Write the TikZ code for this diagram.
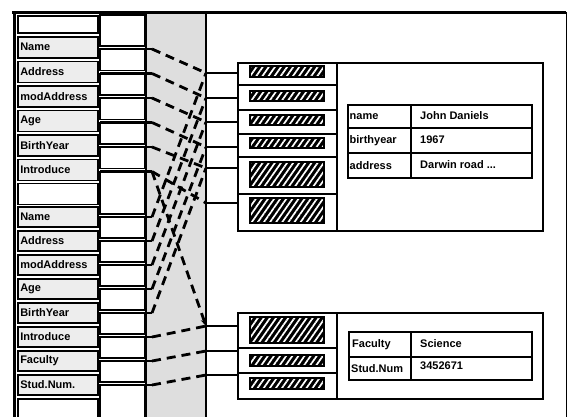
\documentclass[tikz,border=0pt]{standalone}
\usepackage{fontspec}
\setmainfont{Liberation Sans}
\usetikzlibrary{patterns.meta,arrows.meta}
\begin{document}
\begin{tikzpicture}[x=1pt,y=-1pt,
  txt/.style={font=\bfseries\fontsize{11}{12}\selectfont},
  slotbox/.style={draw=black,line width=1.5pt,fill=black!7,anchor=north west,minimum width=80pt,text width=75pt,align=left,inner xsep=2.5pt,inner ysep=0pt,txt},
  ptrbox/.style={draw=black,line width=1.5pt,fill=white},
  wire/.style={line width=2.2pt},
  dashwire/.style={line width=2.8pt,dash pattern=on 9pt off 6pt},
  hatch/.style={draw=black,line width=1.4pt,preaction={fill=black},pattern={Lines[angle=55,distance=5pt,line width=1.7pt]},pattern color=white},
  objbox/.style={draw=black,line width=2.2pt,anchor=north west,inner sep=0pt},
  cell/.style={txt,anchor=west,inner sep=0pt}
]
\useasboundingbox (0,0) rectangle (571,416);
\begin{scope}
\clip (0,0) rectangle (571,416);
% shaded column
\fill[black!13] (146,12) rectangle (206,420);
\draw[line width=2.2pt] (146,12) -- (146,420);
\draw[line width=2.2pt] (206,12) -- (206,420);
% frame
\draw[line width=3pt] (12,12) -- (566,12);
\draw[line width=3pt] (14,12) -- (14,420);
\draw[line width=1pt] (566,12) -- (566,420);

% column 1: selector slots
\node[slotbox,fill=white,minimum height=17pt] (L0) at (17,15) {};
\node[slotbox,minimum height=21pt] (L1) at (17,36) {Name};
\node[slotbox,minimum height=21pt] (L2) at (17,60.5) {Address};
\node[slotbox,minimum height=21pt] (L3) at (17,85) {modAddress};
\node[slotbox,minimum height=21pt] (L4) at (17,109.5) {Age};
\node[slotbox,minimum height=21pt] (L5) at (17,134) {BirthYear};
\node[slotbox,minimum height=21pt] (L6) at (17,158.5) {Introduce};
\node[slotbox,fill=white,minimum height=21pt] (L7) at (17,182.5) {};
\node[slotbox,minimum height=20pt] (L8) at (17,206) {Name};
\node[slotbox,minimum height=20pt] (L9) at (17,230) {Address};
\node[slotbox,minimum height=20pt] (L10) at (17,254) {modAddress};
\node[slotbox,minimum height=20pt] (L11) at (17,278) {Age};
\node[slotbox,minimum height=20pt] (L12) at (17,302) {BirthYear};
\node[slotbox,minimum height=20pt] (L13) at (17,326) {Introduce};
\node[slotbox,minimum height=20pt] (L14) at (17,350) {Faculty};
\node[slotbox,minimum height=20pt] (L15) at (17,374) {Stud.Num.};
\node[slotbox,fill=white,minimum height=24pt] (L16) at (17,398) {};

% column 2: pointer cells
\foreach \a/\b in {15/46, 49/70.5, 73.5/95, 98/119.5, 122.5/144, 147/168.5, 171.5/214,
  217/238, 241/262, 265/286, 289/310, 313/334, 337/358, 361/382, 385/420}
  \draw[ptrbox] (100,\a) rectangle (145,\b);

% object 1
\node[objbox,minimum width=305pt,minimum height=168pt] (obj1) at (237,62) {};
\draw[line width=2pt] (337,62) -- (337,230);
\foreach \y in {85,110,134,157,194} \draw[line width=1.5pt] (237,\y) -- (337,\y);
\foreach \a/\b in {66/77, 91/101, 115/125, 138/148, 162/187, 198/223}
  \draw[hatch] (250,\a) rectangle (324,\b);
% table 1
\draw[line width=2pt] (348,105) rectangle (532,178);
\draw[line width=1.5pt] (348,128) -- (532,128);
\draw[line width=1.5pt] (348,153) -- (532,153);
\draw[line width=2pt] (411,105) -- (411,178);
\node[cell] (c1) at (349.5,116.5) {name};
\node[cell] (c2) at (420,116) {John Daniels};
\node[cell] (c3) at (349.5,140.5) {birthyear};
\node[cell] (c4) at (420,140) {1967};
\node[cell] (c5) at (349.5,165.5) {address};
\node[cell] (c6) at (420,165) {Darwin road ...};

% object 2
\node[objbox,minimum width=305pt,minimum height=86pt] (obj2) at (237,312) {};
\draw[line width=2pt] (337,312) -- (337,398);
\foreach \y in {348,373} \draw[line width=1.5pt] (237,\y) -- (337,\y);
\foreach \a/\b in {317/343, 355/366, 378/389}
  \draw[hatch] (250,\a) rectangle (324,\b);
% table 2
\draw[line width=2pt] (349,332) rectangle (532,380);
\draw[line width=1.5pt] (349,357) -- (532,357);
\draw[line width=2pt] (411,332) -- (411,380);
\node[cell] (c7) at (352,344.5) {Faculty};
\node[cell] (c8) at (420,344) {Science};
\node[cell] (c9) at (351,368.5) {Stud.Num};
\node[cell] (c10) at (420,366) {3452671};

% entry points of the objects
\foreach \n/\y in {r1/73, r2/98, r3/122, r4/147, r5/168, r6/203, q1/326, q2/351, q3/375} {
  \coordinate (e\n) at (206,\y);
  \coordinate (w\n) at (237,\y);
  \draw[wire] (e\n) -- (w\n);
}

% connectors
\foreach \n/\y/\t in {1/49/r1, 2/73.5/r2, 3/98/r3, 4/122.5/r4, 5/147/r5, 6/171.5/r6,
  8/217/r1, 9/241/r2, 10/265/r3, 11/289/r4, 12/313/r5, 13/337/q1, 14/361/q2, 15/385/q3} {
  \coordinate (s\n) at (100,\y);
  \coordinate (d\n) at (152,\y);
  \draw[wire] (s\n) -- (d\n);
  \draw[dashwire] (d\n) -- (e\t);
}
\draw[dashwire,-{Stealth[length=7pt,width=6pt]}] (d6) -- (eq1);
\end{scope}
\end{tikzpicture}
\end{document}
